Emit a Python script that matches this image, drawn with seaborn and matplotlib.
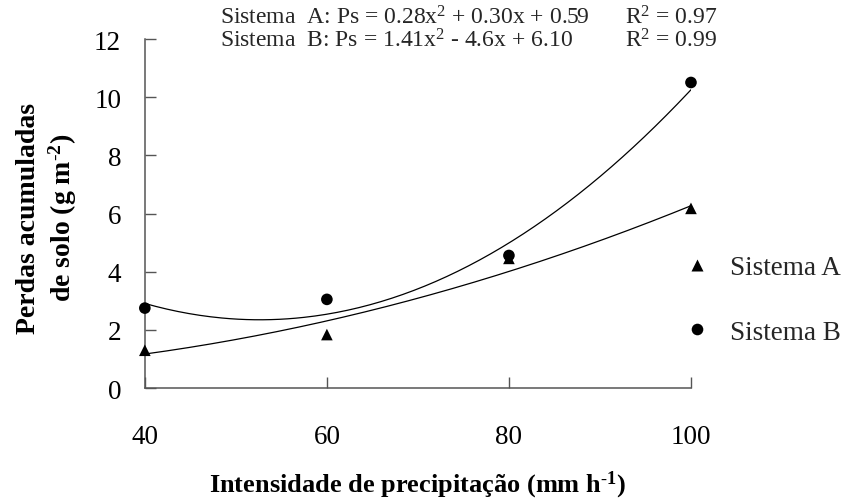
import numpy as np
import pandas as pd
import matplotlib
matplotlib.use("Agg")
import matplotlib.pyplot as plt
import seaborn as sns

# Rainfall intensity (mm h-1) and accumulated soil losses (g m-2)
intensidade = [40, 60, 80, 100]
perdas_a = [1.30, 1.84, 4.46, 6.18]
perdas_b = [2.75, 3.05, 4.56, 10.51]

# Quadratic fits, x coded as 1..4 for 40..100 mm h-1
coef_a = [0.28, 0.30, 0.59]
coef_b = [1.41, -4.6, 6.10]

eq_a = "Sistema  A: Ps = 0.28x$^2$ + 0.30x + 0.59"
eq_b = "Sistema  B: Ps = 1.41x$^2$ - 4.6x + 6.10"
r2_a = "R$^2$ = 0.97"
r2_b = "R$^2$ = 0.99"

x_ticks = [40, 60, 80, 100]
y_ticks = [0, 2, 4, 6, 8, 10, 12]

sns.set_theme(style="white")
plt.rcParams["font.family"] = ["Liberation Serif", "DejaVu Serif"]
plt.rcParams["mathtext.fontset"] = "custom"
plt.rcParams["mathtext.rm"] = "Liberation Serif"
plt.rcParams["mathtext.bf"] = "Liberation Serif:bold"
plt.rcParams["mathtext.default"] = "regular"

pts = pd.DataFrame({
    "intensidade": intensidade * 2,
    "perdas": perdas_a + perdas_b,
    "sistema": ["Sistema A"] * 4 + ["Sistema B"] * 4,
})

grid = np.linspace(intensidade[0], intensidade[-1], 200)
coded = (grid - 20) / 20
curves = pd.DataFrame({
    "intensidade": np.concatenate([grid, grid]),
    "perdas": np.concatenate([np.polyval(coef_a, coded), np.polyval(coef_b, coded)]),
    "sistema": ["Sistema A"] * len(grid) + ["Sistema B"] * len(grid),
})

fig = plt.figure(figsize=(8.52, 5.02), dpi=100)
ax = fig.add_axes([0.170, 0.225, 0.641, 0.695])

sns.lineplot(data=curves, x="intensidade", y="perdas", units="sistema",
             estimator=None, color="black", linewidth=0.9, ax=ax, legend=False)
sns.scatterplot(data=pts, x="intensidade", y="perdas", hue="sistema",
                style="sistema", markers={"Sistema A": "^", "Sistema B": "o"},
                palette={"Sistema A": "black", "Sistema B": "black"},
                s=70, edgecolor="none", ax=ax, clip_on=False, zorder=5)

ax.set_xlim(40, 100)
ax.set_ylim(0, 12)
ax.set_xticks(x_ticks)
ax.set_yticks(y_ticks)
ax.tick_params(axis="both", direction="in", length=8, width=1,
               color="#555555", labelsize=19.5, labelcolor="black")
ax.tick_params(axis="x", pad=26)
ax.tick_params(axis="y", pad=17)
ax.tick_params(bottom=True, left=True)

for side in ["top", "right"]:
    ax.spines[side].set_visible(False)
for side in ["left", "bottom"]:
    ax.spines[side].set_color("#555555")
    ax.spines[side].set_linewidth(1.1)

ax.set_xlabel(r"Intensidade de precipitação (mm h$^{\text{-}1}$)",
              fontsize=19, fontweight="bold", color="black")
ax.xaxis.set_label_coords(0.5, -0.232)
ax.set_ylabel(r"Perdas acumuladas" "\n" r"de solo (g m$^{\text{-}2}$)",
              fontsize=20, fontweight="bold", color="black", linespacing=1.25)
ax.yaxis.set_label_coords(-0.12, 0.49)

fig.text(220 / 852, 1 - 18 / 502, eq_a, fontsize=17, va="center", ha="left")
fig.text(220 / 852, 1 - 41 / 502, eq_b, fontsize=17, va="center", ha="left")
fig.text(625 / 852, 1 - 18 / 502, r2_a, fontsize=17, va="center", ha="left")
fig.text(625 / 852, 1 - 41 / 502, r2_b, fontsize=17, va="center", ha="left")

handles, labels = ax.get_legend_handles_labels()
leg = ax.legend(handles, labels, loc="center left",
                bbox_to_anchor=(683 / 852, 1 - 301 / 502),
                bbox_transform=fig.transFigure, frameon=False,
                fontsize=19.5, handletextpad=0.75, labelspacing=1.45,
                handlelength=1.0, borderaxespad=0, borderpad=0)

fig.savefig("out.png", dpi=100)
